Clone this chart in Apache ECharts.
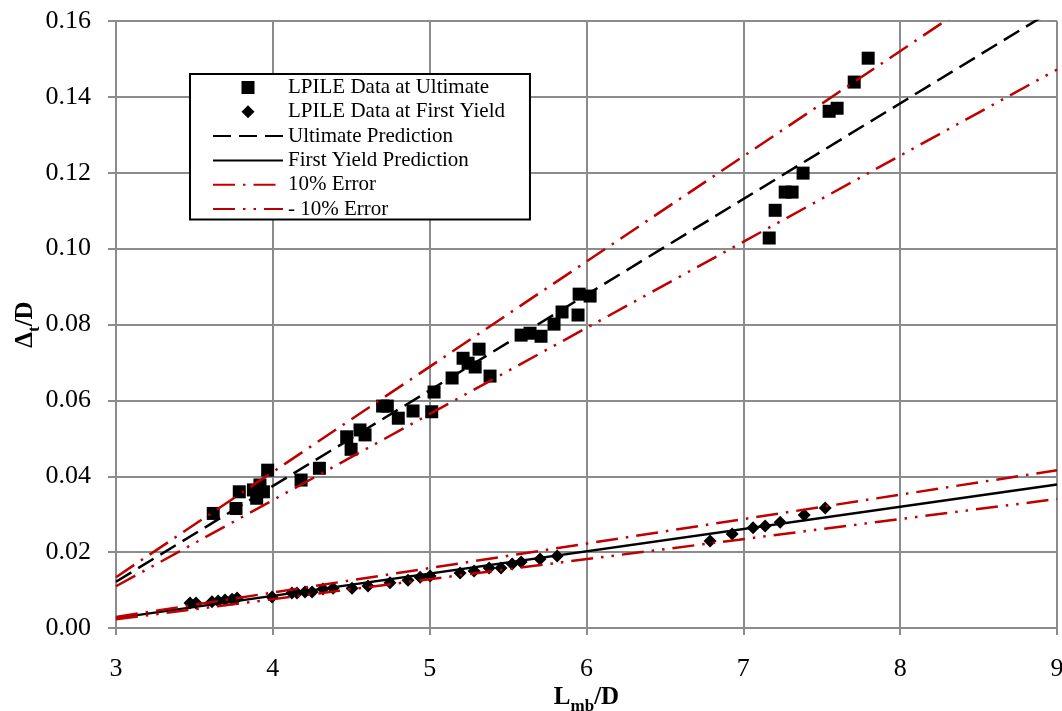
<!DOCTYPE html>
<html>
<head>
<meta charset="utf-8">
<script src="https://cdn.jsdelivr.net/npm/echarts@6/dist/echarts.min.js"></script>
<style>
html,body{margin:0;padding:0;background:#fff;}
#chart{width:1062px;height:711px;}
</style>
</head>
<body>
<div id="chart"></div>
<script>
// ---- Data ----
var ultimateData = [
  [3.620,0.0302],[3.765,0.0315],[3.786,0.0359],[3.876,0.0364],[3.918,0.0377],
  [3.897,0.0342],[3.940,0.0359],[3.967,0.0416],[4.180,0.0390],[4.297,0.0421],
  [4.471,0.0504],[4.499,0.0471],[4.556,0.0522],[4.588,0.0509],[4.700,0.0585],
  [4.730,0.0585],[4.800,0.0553],[4.894,0.0572],[5.013,0.0570],[5.028,0.0622],
  [5.143,0.0659],[5.213,0.0711],[5.245,0.0698],[5.315,0.0735],[5.290,0.0688],
  [5.385,0.0664],[5.583,0.0772],[5.640,0.0777],[5.710,0.0769],[5.793,0.0801],
  [5.844,0.0833],[5.946,0.0825],[5.953,0.0880],[6.023,0.0875],
  [7.165,0.1028],[7.203,0.1101],[7.267,0.1149],[7.311,0.1149],[7.381,0.1199],
  [7.547,0.1362],[7.598,0.1370],[7.707,0.1439],[7.796,0.1502]
];
var firstYieldData = [
  [3.472,0.0066],[3.510,0.0066],[3.612,0.0069],[3.651,0.0071],[3.695,0.0074],
  [3.740,0.0076],[3.772,0.0079],[3.995,0.0082],[4.122,0.0092],[4.154,0.0092],
  [4.205,0.0095],[4.250,0.0095],[4.320,0.0103],[4.384,0.0105],[4.505,0.0105],
  [4.607,0.0111],[4.747,0.0119],[4.862,0.0126],[4.939,0.0134],[5.003,0.0137],
  [5.194,0.0145],[5.283,0.0150],[5.379,0.0158],[5.455,0.0158],[5.526,0.0169],
  [5.583,0.0174],[5.704,0.0182],[5.813,0.0190],[6.788,0.0229],[6.929,0.0248],
  [7.062,0.0264],[7.139,0.0269],[7.235,0.0279],[7.388,0.0298],[7.522,0.0316]
];
var ultimatePrediction = [[3,0.0122],[9,0.1635]];
var ultimatePlus10 = [[3,0.0134],[9,0.1798]];
var ultimateMinus10 = [[3,0.0110],[9,0.1472]];
var firstYieldPrediction = [[3,0.0026],[9,0.0378]];
var firstYieldPlus10 = [[3,0.0029],[9,0.0416]];
var firstYieldMinus10 = [[3,0.0023],[9,0.0340]];
var xTicks = [3,4,5,6,7,8,9];
var yTicks = [0,0.02,0.04,0.06,0.08,0.10,0.12,0.14,0.16];

var FONT = '"Liberation Serif","Times New Roman",serif';
var GRID_COLOR = '#8c8c8c';
var RED = '#c00000';
var HIDE_SYMBOL = {color:'rgba(0,0,0,0)', opacity:0, borderWidth:0};

var chart = echarts.init(document.getElementById('chart'), null, {renderer:'canvas'});
var option = {
  backgroundColor:'#fff',
  animation:false,
  textStyle:{fontFamily:FONT},
  grid:{left:116, right:5, top:21, bottom:83, containLabel:false, outerBoundsMode:'none'},
  legend:{
    orient:'vertical',
    left:190, top:74,
    padding:[3,25,0,22],
    backgroundColor:'#fff',
    borderColor:'#000',
    borderWidth:2,
    borderRadius:0,
    itemWidth:70,
    itemHeight:13,
    itemGap:3.3,
    symbolKeepAspect:true,
    textStyle:{fontFamily:FONT, fontSize:21, color:'#000', lineHeight:18},
    data:[
      {name:'LPILE Data at Ultimate', icon:'path://M0,0L1,0L1,1L0,1Z'},
      {name:'LPILE Data at First Yield', icon:'path://M1,0L2,1L1,2L0,1Z'},
      {name:'Ultimate Prediction', itemStyle:HIDE_SYMBOL},
      {name:'First Yield Prediction', itemStyle:HIDE_SYMBOL},
      {name:'10% Error', itemStyle:HIDE_SYMBOL},
      {name:'- 10% Error', itemStyle:HIDE_SYMBOL}
    ]
  },
  xAxis:{
    type:'value', min:xTicks[0], max:xTicks[xTicks.length-1], interval:1,
    name:'{a|L}{s|mb}{a|/D}',
    nameLocation:'middle', nameGap:57, nameMoveOverlap:false,
    nameTextStyle:{
      rich:{
        a:{fontFamily:FONT, fontSize:25, fontWeight:'bold', color:'#000', lineHeight:26, verticalAlign:'middle'},
        s:{fontFamily:FONT, fontSize:17, fontWeight:'bold', color:'#000', lineHeight:17, verticalAlign:'bottom', padding:[0,0,-4,0]}
      }
    },
    axisLine:{show:true, onZero:false, lineStyle:{color:GRID_COLOR, width:2}},
    axisTick:{show:true, length:7, lineStyle:{color:GRID_COLOR, width:2}},
    axisLabel:{fontFamily:FONT, fontSize:26, color:'#000', margin:28},
    splitLine:{show:true, lineStyle:{color:GRID_COLOR, width:2}}
  },
  yAxis:{
    type:'value', min:yTicks[0], max:yTicks[yTicks.length-1], interval:0.02,
    name:'{a|Δ}{s|t}{a|/D}',
    nameLocation:'middle', nameGap:77, nameMoveOverlap:false,
    nameTextStyle:{
      rich:{
        a:{fontFamily:FONT, fontSize:25, fontWeight:'bold', color:'#000', lineHeight:26, verticalAlign:'middle'},
        s:{fontFamily:FONT, fontSize:17, fontWeight:'bold', color:'#000', lineHeight:17, verticalAlign:'bottom', padding:[0,0,-4,0]}
      }
    },
    axisLine:{show:true, lineStyle:{color:GRID_COLOR, width:2}},
    axisTick:{show:true, length:8, lineStyle:{color:GRID_COLOR, width:2}},
    axisLabel:{fontFamily:FONT, fontSize:26, color:'#000', margin:25,
      formatter:function(v){return v.toFixed(2);}},
    splitLine:{show:true, lineStyle:{color:GRID_COLOR, width:2}}
  },
  series:[
    {name:'LPILE Data at Ultimate', type:'scatter', symbol:'rect', symbolSize:13,
      itemStyle:{color:'#000', opacity:1}, data:ultimateData, z:2},
    {name:'LPILE Data at First Yield', type:'scatter', symbol:'diamond', symbolSize:13,
      itemStyle:{color:'#000', opacity:1}, data:firstYieldData, z:2},
    {name:'Ultimate Prediction', type:'line', symbol:'none', clip:true,
      lineStyle:{color:'#000', width:2.5, type:[18,8]}, itemStyle:{color:'#000'},
      data:ultimatePrediction, z:3},
    {name:'First Yield Prediction', type:'line', symbol:'none', clip:true,
      lineStyle:{color:'#000', width:2.5, type:'solid'}, itemStyle:{color:'#000'},
      data:firstYieldPrediction, z:3},
    {name:'10% Error', type:'line', symbol:'none', clip:true,
      lineStyle:{color:RED, width:2.5, type:[22,8,2.5,8]}, itemStyle:{color:RED},
      data:ultimatePlus10, z:3},
    {name:'10% Error', type:'line', symbol:'none', clip:true,
      lineStyle:{color:RED, width:2.5, type:[22,8,2.5,8]}, itemStyle:{color:RED},
      data:firstYieldPlus10, z:3},
    {name:'- 10% Error', type:'line', symbol:'none', clip:true,
      lineStyle:{color:RED, width:2.5, type:[22,8,2.5,8,2.5,8]}, itemStyle:{color:RED},
      data:ultimateMinus10, z:3},
    {name:'- 10% Error', type:'line', symbol:'none', clip:true,
      lineStyle:{color:RED, width:2.5, type:[22,8,2.5,8,2.5,8]}, itemStyle:{color:RED},
      data:firstYieldMinus10, z:3}
  ]
};
chart.setOption(option);
</script>
</body>
</html>
